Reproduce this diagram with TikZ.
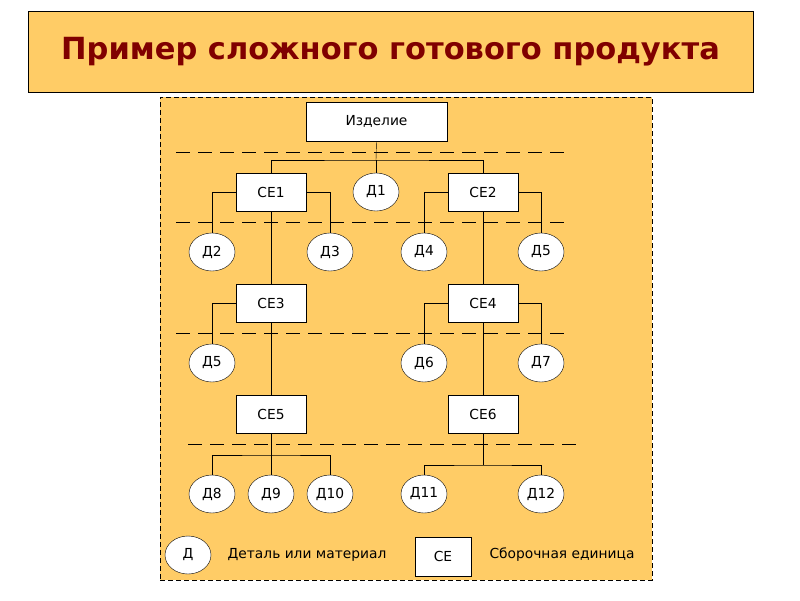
\documentclass[tikz,border=0pt]{standalone}
\usepackage{fontspec}
\setmainfont{DejaVu Sans}
\usetikzlibrary{shapes.geometric}
\definecolor{bg}{HTML}{FFCC66}
\definecolor{ttl}{HTML}{800000}
\begin{document}
\begin{tikzpicture}[x=1pt,y=-1pt,
  box/.style={draw,fill=white,minimum width=70pt,minimum height=38pt,inner sep=0pt,font=\fontsize{13.8}{16}\selectfont},
  det/.style={draw,fill=white,ellipse,minimum width=46pt,minimum height=38pt,inner sep=0pt,font=\fontsize{13.8}{16}\selectfont},
  dl/.style={dash pattern=on 14pt off 8pt},
  lbl/.style={font=\fontsize{13.8}{16}\selectfont}]
\useasboundingbox (0,0) rectangle (800,600);
\fill[white] (0,0) rectangle (800,600);
\node[draw,fill=bg,minimum width=725pt,minimum height=81pt,inner sep=0pt,text=ttl,font=\bfseries\fontsize{30.5}{34}\selectfont] (title) at (390.5,51.5) {Пример сложного готового продукта};
\node[draw,dash pattern=on 5pt off 3pt,fill=bg,minimum width=492pt,minimum height=483pt,inner sep=0pt] (panel) at (406,338.5) {};
\draw[dl] (176,152) -- (568,152);
\draw[dl] (176,222) -- (568,222);
\draw[dl] (176,333) -- (568,333);
\draw[dl] (188,444) -- (578,444);
\node[box,minimum width=141pt,minimum height=39pt] (iz) at (376.5,121.5) {Изделие};
\node[box] (ce1) at (271,192) {СЕ1};
\node[box] (ce2) at (483,192) {СЕ2};
\node[det] (d1) at (376,192) {Д1};
\node[det] (d2) at (212,252) {Д2};
\node[det] (d3) at (330,252) {Д3};
\node[det] (d4) at (424,252) {Д4};
\node[det] (d5) at (541,252) {Д5};
\node[box] (ce3) at (271,303) {СЕ3};
\node[box] (ce4) at (483,303) {СЕ4};
\node[det] (d5b) at (212,363) {Д5};
\node[det] (d6) at (424,363) {Д6};
\node[det] (d7) at (541,363) {Д7};
\node[box] (ce5) at (271,414) {СЕ5};
\node[box] (ce6) at (483,414) {СЕ6};
\node[det] (d8) at (212,494) {Д8};
\node[det] (d9) at (271,494) {Д9};
\node[det] (d10) at (330,494) {Д10};
\node[det] (d11) at (424,494) {Д11};
\node[det] (d12) at (541,494) {Д12};
\node[det] (ld) at (188,555) {Д};
\node[lbl] (ldt) at (307,555) {Деталь или материал};
\node[box,minimum width=56pt,minimum height=39pt] (lce) at (443,556.5) {СЕ};
\node[lbl] (lcet) at (562,555) {Сборочная единица};
% connectors
\coordinate (b1) at (376,160);
\draw (iz.south) -- (b1);
\draw (ce1.north) |- (b1) -| (ce2.north);
\draw (b1) -- (d1.north);
\draw (ce1.west) -| (d2.north);
\draw (ce1.east) -| (d3.north);
\draw (ce2.west) -| (d4.north);
\draw (ce2.east) -| (d5.north);
\draw (ce1.south) -- (ce3.north);
\draw (ce2.south) -- (ce4.north);
\draw (ce3.west) -| (d5b.north);
\draw (ce4.west) -| (d6.north);
\draw (ce4.east) -| (d7.north);
\draw (ce3.south) -- (ce5.north);
\draw (ce4.south) -- (ce6.north);
\coordinate (b5) at (271,455);
\draw (ce5.south) -- (d9.north);
\draw (d8.north) |- (b5) -| (d10.north);
\coordinate (b6) at (483,465);
\draw (ce6.south) -- (b6);
\draw (d11.north) |- (b6) -| (d12.north);
\end{tikzpicture}
\end{document}
